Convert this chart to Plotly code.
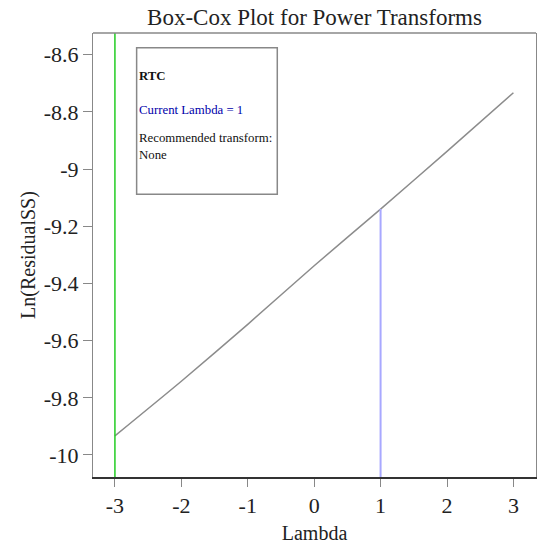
import plotly.graph_objects as go

lam = [-3, -2, -1, 0, 1, 2, 3]
ln_rss = [-9.933, -9.742, -9.543, -9.338, -9.140, -8.938, -8.733]
current_lambda = 1
current_value = -9.140
best_lambda = -3
x_ticks = [-3, -2, -1, 0, 1, 2, 3]
y_ticks = [-8.6, -8.8, -9.0, -9.2, -9.4, -9.6, -9.8, -10.0]
y_tick_text = ["-8.6", "-8.8", "-9", "-9.2", "-9.4", "-9.6", "-9.8", "-10"]
x_range = [-3.33, 3.34]
y_range = [-10.077, -8.524]

SERIF = "Liberation Serif, Times New Roman, serif"

fig = go.Figure()
fig.add_trace(go.Scatter(x=lam, y=ln_rss, mode="lines",
                         line=dict(color="#8c8c8c", width=1.5, shape="spline", smoothing=0.6),
                         hoverinfo="skip"))
# current lambda marker (blue) from bottom to curve
fig.add_trace(go.Scatter(x=[current_lambda, current_lambda], y=[y_range[0], current_value],
                         mode="lines", line=dict(color="#a8a8ff", width=2), hoverinfo="skip"))
# best lambda (green) full height
fig.add_trace(go.Scatter(x=[best_lambda, best_lambda], y=y_range, mode="lines",
                         line=dict(color="#22cc22", width=1.5), hoverinfo="skip"))

fig.update_layout(
    width=537, height=547,
    margin=dict(l=93, r=1, t=33, b=70),
    paper_bgcolor="white", plot_bgcolor="white",
    showlegend=False,
    font=dict(family=SERIF, color="#222222"),
    title=dict(text="Box-Cox Plot for Power Transforms", x=0.5, xref="paper",
               xanchor="center", y=0.969, yanchor="middle", yref="container",
               font=dict(size=23, family=SERIF, color="#222222")),
)
fig.update_xaxes(range=x_range, tickvals=x_ticks, ticktext=[str(v) for v in x_ticks],
                 showgrid=False, zeroline=False, showline=True, linecolor="#333333",
                 linewidth=1.5, ticks="outside", ticklen=8, tickcolor="#888888",
                 tickfont=dict(size=22, family=SERIF, color="#222222"),
                 title=dict(text="Lambda", font=dict(size=20, family=SERIF, color="#222222"),
                            standoff=9))
fig.update_yaxes(range=y_range, tickvals=y_ticks, ticktext=y_tick_text,
                 showgrid=False, zeroline=False, showline=True, linecolor="#888888",
                 linewidth=1.2, mirror=True, ticks="outside", ticklen=9, tickcolor="#888888",
                 tickfont=dict(size=22, family=SERIF, color="#222222"),
                 title=dict(text="Ln(ResidualSS)", font=dict(size=20, family=SERIF, color="#222222"),
                            standoff=2))
# top border
fig.add_shape(type="line", xref="paper", yref="paper", x0=0, x1=1, y0=1, y1=1,
              line=dict(color="#888888", width=1.5))
# info box
fig.add_shape(type="rect", xref="paper", yref="paper", x0=0.0985, x1=0.416, y0=0.6367, y1=0.9667,
              line=dict(color="#888888", width=1.5), fillcolor="white")

def ann(text, ypix, color="#111111", bold=False):
    yp = (477 - ypix) / 444.0
    fig.add_annotation(xref="paper", yref="paper", x=0.1, y=yp, xanchor="left", yanchor="middle",
                       text=f"<b>{text}</b>" if bold else text, showarrow=False,
                       font=dict(size=12.8, family=SERIF, color=color))

ann("RTC", 76, bold=True)
ann("Current Lambda = 1", 110, color="#0000aa")
ann("Recommended transform:", 138)
ann("None", 155)

fig.write_html("out.html")
